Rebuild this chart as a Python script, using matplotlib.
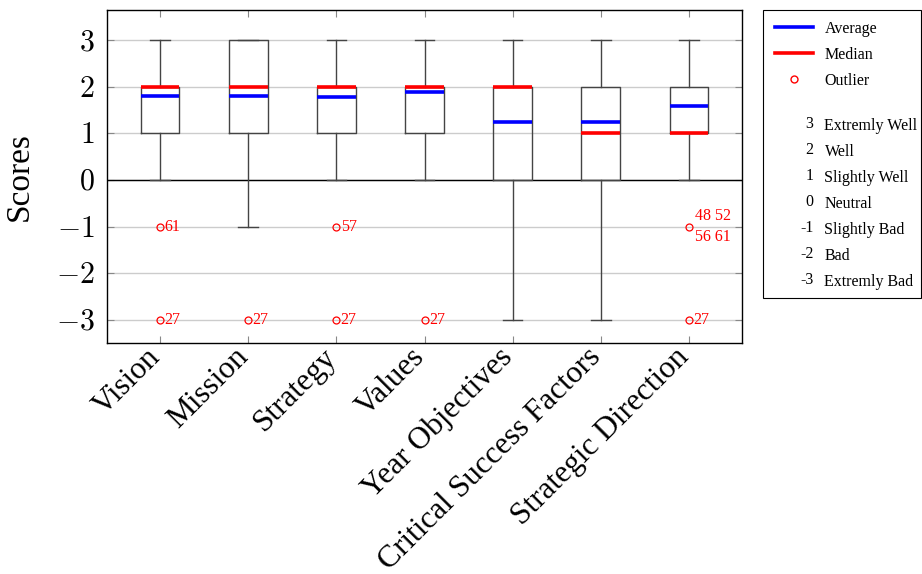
import matplotlib
matplotlib.use("Agg")
import matplotlib.pyplot as plt
from matplotlib.lines import Line2D
from matplotlib.patches import Rectangle
from matplotlib.legend_handler import HandlerBase
from matplotlib.text import Text
from matplotlib.transforms import ScaledTranslation

plt.rcParams['font.family'] = ['Liberation Serif', 'DejaVu Serif']
plt.rcParams['mathtext.fontset'] = 'cm'

categories = ["Vision", "Mission", "Strategy", "Values", "Year Objectives",
              "Critical Success Factors", "Strategic Direction"]
whisker_low = [0, -1, 0, 0, -3, -3, 0]
q1 = [1, 1, 1, 1, 0, 0, 1]
medians = [2, 2, 2, 2, 2, 1, 1]
q3 = [2, 3, 2, 2, 2, 2, 2]
whisker_high = [3, 3, 3, 3, 3, 3, 3]
means = [1.81, 1.81, 1.78, 1.88, 1.24, 1.24, 1.58]
outliers = [[-1, -3], [-3], [-1, -3], [-3], [], [], [-1, -3]]
outlier_labels = [["61", "27"], ["27"], ["57", "27"], ["27"], [], [],
                  ["48 52\n56 61", "27"]]
scale_values = ["3", "2", "1", "0", "-1", "-2", "-3"]
scale_names = ["Extremly Well", "Well", "Slightly Well", "Neutral",
               "Slightly Bad", "Bad", "Extremly Bad"]
yticks = [-3, -2, -1, 0, 1, 2, 3]

W, H = 922, 574
fig = plt.figure(figsize=(W / 100, H / 100), dpi=100)
ax = fig.add_axes([107/W, 1-343/H, (742-107)/W, (343-10)/H])

stats = []
for i, c in enumerate(categories):
    stats.append(dict(label=c, whislo=whisker_low[i], q1=q1[i], med=medians[i],
                      q3=q3[i], whishi=whisker_high[i], mean=means[i],
                      fliers=outliers[i]))
positions = list(range(1, len(categories) + 1))
ax.bxp(stats, positions=positions, widths=0.44, showmeans=True, meanline=True,
       boxprops=dict(color='#444444', lw=1),
       whiskerprops=dict(color='#444444', lw=1),
       capprops=dict(color='#444444', lw=1),
       medianprops=dict(color='red', lw=2.6),
       meanprops=dict(color='blue', lw=2.6, ls='-'),
       flierprops=dict(marker='o', markersize=5, markerfacecolor='none',
                       markeredgecolor='red', markeredgewidth=0.9),
       zorder=3)

for i, labs in enumerate(outlier_labels):
    for v, lab in zip(outliers[i], labs):
        if "\n" in lab:
            ax.text(positions[i] + 0.07, v, lab, color='red', fontsize=11.5,
                    va='center', ha='left', linespacing=1.45)
        else:
            ax.text(positions[i] + 0.05, v, lab, color='red', fontsize=11.5,
                    va='center', ha='left')

ax.axhline(0, color='black', lw=1, zorder=2)
ax.set_yticks(yticks)
ax.set_yticklabels([r'$%d$' % t for t in yticks], fontsize=21.5)
ax.grid(axis='y', color='#cccccc', lw=1, zorder=0)
ax.set_axisbelow(True)
ax.set_xlim(0.4, 7.6)
ax.set_ylim(-3.5, 3.65)
ax.set_xticks(positions)
ax.set_xticklabels(categories, rotation=45, ha='right', va='center',
                   rotation_mode='anchor', fontsize=22.5)
ax.tick_params(direction='in', top=True, right=True, length=5, width=0.8,
               color='#888888')
ax.tick_params(axis='x', pad=7)
ax.tick_params(axis='y', pad=9)
off = ScaledTranslation(-4 / 100, 0, fig.dpi_scale_trans)
for lbl in ax.get_xticklabels():
    lbl.set_transform(lbl.get_transform() + off)
ax.set_ylabel("Scores", fontsize=24)
ax.yaxis.set_label_coords((35 - 107) / 635, 0.5)
for s in ax.spines.values():
    s.set_color('black')
    s.set_linewidth(1)


class TextHandler(HandlerBase):
    def __init__(self, txt):
        super().__init__()
        self.txt = txt

    def create_artists(self, legend, orig_handle, xdescent, ydescent, width,
                       height, fontsize, trans):
        t = Text(width - xdescent, height / 2 - ydescent, self.txt,
                 ha='right', va='center', fontsize=fontsize,
                 family=['Liberation Serif'], transform=trans)
        return [t]


class InsetLineHandler(HandlerBase):
    def create_artists(self, legend, orig_handle, xdescent, ydescent, width,
                       height, fontsize, trans):
        y = height / 2 - ydescent
        x0 = -xdescent + 0.16 * width
        x1 = -xdescent + width
        if orig_handle.get_linestyle() in ('None', 'none', ''):
            ln = Line2D([(x0 + x1) / 2], [y], transform=trans)
        else:
            ln = Line2D([x0, x1], [y, y], transform=trans)
        ln.update_from(orig_handle)
        ln.set_transform(trans)
        return [ln]


handles = [Line2D([], [], color='blue', lw=2.6),
           Line2D([], [], color='red', lw=2.6),
           Line2D([], [], marker='o', ls='none', markersize=5,
                  markerfacecolor='none', markeredgecolor='red'),
           Line2D([], [], ls='none')]
labels = ["Average", "Median", "Outlier", ""]
handler_map = {h: InsetLineHandler() for h in handles[:3]}
for v, n in zip(scale_values, scale_names):
    h = Line2D([], [], ls='none')
    handles.append(h)
    labels.append(n)
    handler_map[h] = TextHandler(v)

leg = fig.legend(handles, labels, handler_map=handler_map, loc='upper left',
                 bbox_to_anchor=(763/W, 1-16/H), borderaxespad=0,
                 fontsize=11.5, frameon=False,
                 handlelength=2.85, handleheight=0.2, handletextpad=0.7,
                 labelspacing=0.62, borderpad=0.3)
leg.get_texts()[3].set_fontsize(2)

fig.patches.append(Rectangle((763/W, 1-298/H), (921-763)/W, (298-10)/H,
                             transform=fig.transFigure, fill=False,
                             edgecolor='black', lw=0.8))

fig.savefig("out.png", dpi=100)
